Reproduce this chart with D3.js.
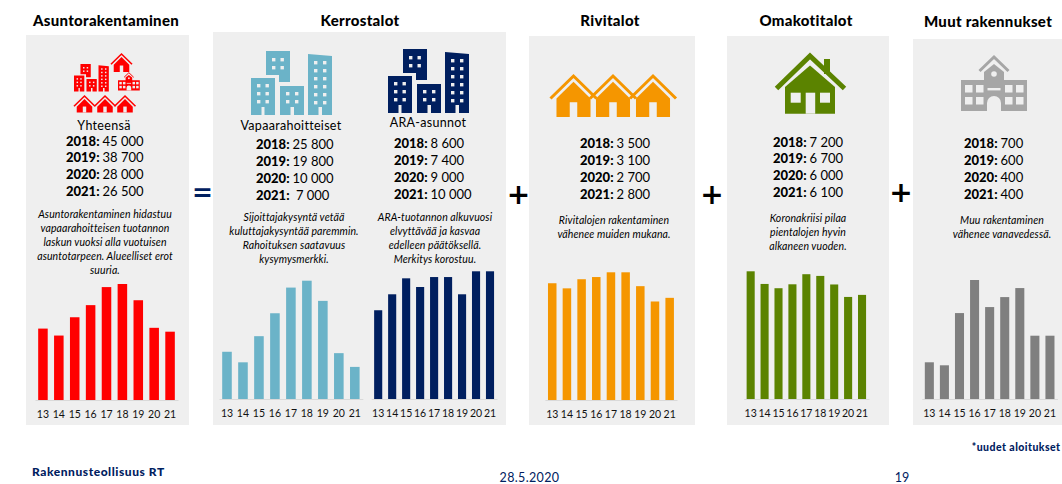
<!DOCTYPE html>
<html><head><meta charset="utf-8">
<script src="https://cdn.jsdelivr.net/npm/d3@7/dist/d3.min.js"></script>
<style>html,body{margin:0;padding:0;background:#fff}svg{display:block}text{font-family:Lato,sans-serif;fill:#000}</style>
</head><body><svg id="c" width="1062" height="484"></svg>
<script>
const years=["13","14","15","16","17","18","19","20","21"];
const totalValues=[27700,25000,32100,36800,43800,45000,38700,28000,26500];
const freeValues=[10300,8000,13700,18700,24300,25800,21400,10000,7000];
const araValues=[6950,8200,9450,8770,9550,9550,8200,10000,10000];
const rowValues=[3200,3060,3310,3370,3500,3500,3120,2700,2800];
const detachedValues=[7470,6730,6480,6710,7300,7200,6700,5970,6090];
const otherValues=[232,213,543,752,581,644,701,400,400];
const forecastYears=["2018:","2019:","2020:","2021:"];
const totalForecast=["45 000","38 700","28 000","26 500"];
const freeForecast=["25 800","19 800","10 000"," 7 000"];
const araForecast=["8 600","7 400","9 000","10 000"];
const rowForecast=["3 500","3 100","2 700","2 800"];
const detachedForecast=["7 200","6 700","6 000","6 100"];
const otherForecast=["700","600","400","400"];
const titles=["Asuntorakentaminen","Kerrostalot","Rivitalot","Omakotitalot","Muut rakennukset"];

const svg=d3.select("#c");
const BG="#efefef";
[[26,35,163,390],[213,32,293,393],[529,36,166,389],[727,36,162,389],[913,39,149,386]].forEach(p=>
  svg.append("rect").attr("x",p[0]).attr("y",p[1]).attr("width",p[2]).attr("height",p[3]).attr("fill",BG));

function txt(s,x,y,size,o={}){
  const t=svg.append("text").attr("x",x).attr("y",y).attr("dominant-baseline","central")
   .attr("font-size",size).attr("text-anchor",o.anchor||"middle").text(s)
   .style("fill",o.fill||"#000");
  if(o.bold)t.attr("font-weight",900);
  if(o.italic)t.attr("font-style","italic");
  if(o.ls)t.attr("letter-spacing",o.ls);
  if(o.family)t.style("font-family",o.family);
  return t;
}
[[106,20],[360,20],[610,20],[806,20],[988,21]].forEach((p,i)=>txt(titles[i],p[0],p[1],15,{bold:true,ls:0.3}));

function block(values,x,y0,dy){
  values.forEach((v,i)=>{
    const t=svg.append("text").attr("x",x).attr("y",y0+i*dy).attr("dominant-baseline","central").attr("font-size",13).attr("xml:space","preserve");
    t.append("tspan").attr("font-weight",900).text(forecastYears[i]);
    t.append("tspan").attr("dx",3).text(v);
  });
}
block(totalForecast,66,140.5,16.8);
block(freeForecast,256,144,17);
block(araForecast,394,143,17);
block(rowForecast,580,143,17);
block(detachedForecast,773,141.5,16.8);
block(otherForecast,964,142.5,17);

txt("Yhteensä",104,125,12.5,{ls:0.3});
txt("Vapaarahoitteiset",291,125,12.5,{ls:0.3});
txt("ARA-asunnot",428,122,12.5,{ls:0.3});

function desc(lines,cx,y0){lines.forEach((l,i)=>txt(l,cx,y0+i*14.1,10.5,{italic:true,ls:0.1}));}
desc(["Asuntorakentaminen hidastuu","vapaarahoitteisen tuotannon","laskun vuoksi alla vuotuisen","asuntotarpeen. Alueelliset erot","suuria."],105,214);
desc(["Sijoittajakysyntä vetää","kuluttajakysyntää paremmin.","Rahoituksen saatavuus","kysymysmerkki."],294,217);
desc(["ARA-tuotannon alkuvuosi","elvyttävää ja kasvaa","edelleen päätöksellä.","Merkitys korostuu."],435,217);
desc(["Rivitalojen rakentaminen","vähenee muiden mukana."],614,219.5);
desc(["Koronakriisi pilaa","pientalojen hyvin","alkaneen vuoden."],808,218);
desc(["Muu rakentaminen","vähenee vanavedessä."],1002,219.5);

txt("=",202.5,192.5,25,{bold:true,fill:"#002060",family:"'DejaVu Sans'"});
[[518.5,194.5],[712,194.5],[901,192.5]].forEach(p=>txt("+",p[0],p[1],28,{bold:true,family:"'DejaVu Sans'"}));

txt("Rakennusteollisuus RT",32,471.5,12,{anchor:"start",bold:true,fill:"#002060",ls:0.55});
txt("28.5.2020",529.5,477.3,12.5,{fill:"#002060",ls:0.35});
txt("19",902,477,12.5,{fill:"#002060"});
txt("*uudet aloitukset",1060.5,446.7,10.5,{anchor:"end",bold:true,fill:"#002060",ls:0.45});

function chart(values,x0,x1,base,top,color,inner){
  const x=d3.scaleBand().domain(years).range([x0,x1]).paddingInner(inner).paddingOuter(inner/2);
  const y=d3.scaleLinear().domain([0,d3.max(values)]).range([base,top]);
  const g=svg.append("g");
  g.selectAll("rect").data(values).join("rect")
    .attr("x",(d,i)=>x(years[i])).attr("width",x.bandwidth())
    .attr("y",d=>y(d)).attr("height",d=>base-y(d)).attr("fill",color);
  const ax=svg.append("g").attr("transform",`translate(0,${base})`).call(d3.axisBottom(x).tickSize(0).tickPadding(0));
  ax.select(".domain").attr("stroke","#d9d9d9").attr("stroke-width",1);
  ax.selectAll("text").attr("y",13.6).attr("dy",0).attr("dominant-baseline","central").attr("font-size",10.5).style("font-family","Lato,sans-serif").attr("fill","#000").style("fill","#111");
}
chart(totalValues,35,178,400,284,"#ff0000",0.4);
chart(freeValues,219,362.8,399,280.7,"#6bb3c8",0.4);
chart(araValues,371.2,497,399,271.3,"#001f5f",0.42);
chart(rowValues,544.9,677,400,272.3,"#f59600",0.42);
chart(detachedValues,743.7,869,399,271.3,"#5b8300",0.42);
chart(otherValues,921.8,1057.5,399,280,"#7f7f7f",0.4);

/* pictograms */
function towers(px,py,s,col){
  const g=svg.append("g").attr("transform",`translate(${px},${py}) scale(${s})`);
  const poly=(pts,f)=>g.append("polygon").attr("points",pts).attr("fill",f);
  const w=(xs,ys)=>xs.forEach(a=>ys.forEach(b=>g.append("rect").attr("x",a).attr("y",b).attr("width",3.4).attr("height",3.4).attr("fill",BG)));
  poly("0,27 24,27 24,64 13.5,64 13.5,56 10.5,56 10.5,64 0,64",col);
  poly("15,0 39,0 39,31 28,31 28,24 15,24",col);
  poly("29,35 53,35 53,64 43,64 43,56 39.5,56 39.5,64 29,64",col);
  poly("57,3 81,5 81,64 71,64 71,56 67.5,56 67.5,64 57,64",col);
  w([6,14.5],[33,41,49]); w([21,29.5],[7,15]); w([35,44],[41,49]); w([63,72],[10,18,26,34,42,50]);
}
towers(251,51,1,"#6bb3c8");
towers(388,49,1,"#001f5f");
towers(74,64,0.43,"#ff0000");

function house(cx,apex,hw,h,col,sw){
  const g=svg.append("g");
  g.append("polyline").attr("points",`${cx-hw},${apex+hw*0.98} ${cx},${apex} ${cx+hw},${apex+hw*0.98}`).attr("fill","none").attr("stroke",col).attr("stroke-width",sw);
  const b=hw*0.74, i=sw*1.9;
  g.append("polygon").attr("points",`${cx-b},${apex+h} ${cx-b},${apex+i+b*0.98} ${cx},${apex+i} ${cx+b},${apex+i+b*0.98} ${cx+b},${apex+h}`).attr("fill",col);
  g.append("rect").attr("x",cx-b*0.22).attr("y",apex+h*0.64).attr("width",b*0.44).attr("height",h*0.36).attr("fill",BG);
}
[573.5,613,653].forEach(c=>house(c,76,23,41,"#f59600",3));
[84.5,105,125].forEach(c=>house(c,96,10.5,16.5,"#ff0000",1.6));
house(121.5,54,10.5,18,"#ff0000",1.6);

/* detached house */
(function(){
  const col="#5b8300",g=svg.append("g");
  g.append("rect").attr("x",824).attr("y",59).attr("width",6).attr("height",15).attr("fill",col);
  g.append("polyline").attr("points","776.5,88.5 810,56 844.5,88.5").attr("fill","none").attr("stroke",col).attr("stroke-width",5);
  g.append("polygon").attr("points","785,113.7 785,87 810,65.5 835,87 835,113.7").attr("fill",col);
  [[790.7,92.7,10,10],[820,92.7,10,10],[805.7,92.7,9.5,21]].forEach(r=>g.append("rect").attr("x",r[0]).attr("y",r[1]).attr("width",r[2]).attr("height",r[3]).attr("fill",BG));
})();

/* school */
function school(px,py,s,col){
  const g=svg.append("g").attr("transform",`translate(${px},${py}) scale(${s})`);
  g.append("polyline").attr("points","18.5,16 33,2 47.5,16").attr("fill","none").attr("stroke",col).attr("stroke-width",3);
  g.append("polygon").attr("points","23,25 23,17 33,9 43,17 43,25 66,25 66,56 0,56 0,25").attr("fill",col);
  g.append("circle").attr("cx",33).attr("cy",19).attr("r",2.8).attr("fill",BG);
  [4,15,44,55].forEach(a=>[30,42].forEach(b=>g.append("rect").attr("x",a).attr("y",b).attr("width",7.5).attr("height",7.5).attr("fill",BG)));
  g.append("rect").attr("x",26.5).attr("y",33).attr("width",13).attr("height",2.4).attr("fill",BG);
  g.append("path").attr("d","M26,56 V48 A7,7 0 0 1 40,48 V56 Z").attr("fill",BG);
}
school(961,55,1,"#a6a6a6");
school(118,72,0.33,"#ff0000");
</script></body></html>
